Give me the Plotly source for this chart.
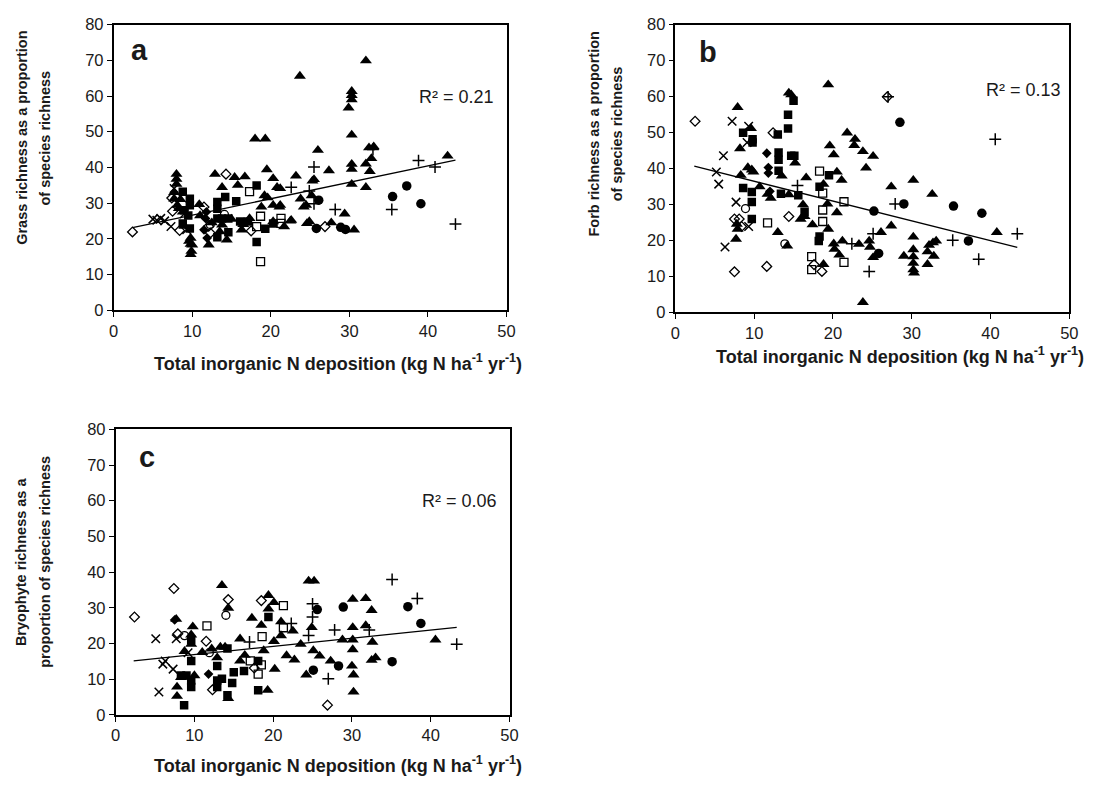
import plotly.graph_objects as go

W, H = 1102, 802

# ---------------- data: panel a (grass) ----------------
a_tri_x = [8.0, 8.0, 8.0, 7.7, 8.1, 8.8, 9.8, 9.8, 9.9, 9.8, 10.9, 12.1, 12.9, 13.8, 14.4, 15.4, 15.8, 16.7, 16.3, 17.3,
           18.0, 19.3, 19.5, 19.2, 18.8, 20.3, 20.3, 20.8, 21.2, 21.2, 21.7, 22.6, 23.2, 23.7, 23.8, 24.2, 24.6, 25.3, 25.2, 26.0,
           27.4, 27.7, 29.4, 30.3, 29.9, 30.3, 30.3, 30.3, 30.3, 30.3, 30.6, 32.1, 32.1, 32.1, 32.8, 32.5, 33.1, 32.6, 42.5, 13.8,
           9.6, 10.0, 19.6, 20.3, 21.1, 12.5, 13.5, 15.0, 16.5, 22.5, 8.5, 8.3, 9.0, 24.5, 24.9, 25.5, 30.3, 7.7, 11.0]
a_tri_y = [38.1, 36.7, 35.3, 31.2, 29.4, 27.5, 20.2, 18.5, 16.5, 15.6, 29.6, 18.3, 38.1, 34.4, 19.7, 37.2, 35.0, 37.4, 22.5, 25.7,
           48.0, 48.0, 39.4, 32.1, 28.9, 29.4, 36.9, 34.4, 34.1, 29.4, 23.4, 25.2, 37.6, 65.6, 31.2, 28.9, 24.3, 36.2, 32.1, 44.8,
           39.1, 24.5, 27.0, 49.1, 56.7, 59.0, 61.3, 40.9, 39.5, 35.3, 22.5, 69.9, 34.4, 41.0, 42.5, 45.5, 45.8, 38.9, 43.2, 23.9,
           19.3, 18.3, 31.5, 24.8, 28.9, 24.5, 22.0, 25.5, 24.0, 25.0, 31.0, 28.5, 23.5, 29.4, 24.8, 36.6, 60.2, 33.0, 26.5]
a_sq_x = [8.8, 9.7, 9.7, 8.8, 9.7, 13.2, 13.2, 13.8, 14.6, 13.2, 14.6, 15.6, 16.1, 17.1, 18.2, 18.2, 19.3, 20.3, 14.2, 13.2,
          9.5, 9.0]
a_sq_y = [33.2, 31.2, 29.4, 24.3, 22.9, 30.3, 25.7, 25.7, 25.7, 20.4, 21.8, 30.5, 24.8, 24.8, 34.9, 19.1, 22.8, 24.3, 31.7, 28.4,
          26.5, 28.0]
a_dia_x = [11.5, 11.9, 11.7, 11.8]
a_dia_y = [22.5, 20.2, 25.7, 27.5]
a_circ_x = [25.8, 26.1, 28.9, 29.5, 35.5, 37.3, 39.1]
a_circ_y = [22.9, 30.8, 23.2, 22.6, 31.8, 34.8, 29.8]
a_osq_x = [17.3, 18.7, 18.2, 21.3, 21.3, 18.7]
a_osq_y = [33.2, 26.3, 23.4, 25.7, 24.3, 13.6]
a_odia_x = [2.4, 7.4, 7.5, 8.4, 14.3, 11.5, 12.1, 12.3, 17.5, 26.9]
a_odia_y = [21.9, 31.4, 27.7, 22.3, 38.1, 28.9, 23.5, 21.6, 22.2, 23.4]
a_ocirc_x = [14.1, 12.3]
a_ocirc_y = [26.8, 24.0]
a_x_x = [5.0, 5.5, 6.0, 6.5, 7.3, 7.7, 9.3, 9.0]
a_x_y = [25.5, 25.2, 25.7, 25.0, 23.4, 34.1, 22.5, 27.0]
a_plus_x = [25.5, 24.9, 22.6, 25.5, 28.2, 33.0, 35.4, 38.8, 40.9, 43.5]
a_plus_y = [40.1, 33.4, 34.4, 29.8, 28.2, 45.0, 28.2, 41.9, 40.1, 24.1]
a_trend_x = [2.4, 43.5]
a_trend_y = [23.1, 42.0]

# ---------------- data: panel b (forb) ----------------
b_tri_x = [7.9, 8.2, 8.3, 9.2, 9.7, 9.9, 9.6, 7.8, 7.9, 7.7, 10.7, 11.7, 12.1, 13.0, 13.5, 14.2, 14.4, 14.4, 14.7, 15.2,
           16.2, 16.4, 15.9, 16.6, 17.4, 18.8, 18.8, 19.4, 19.3, 19.4, 19.6, 20.1, 20.5, 20.5, 20.1, 20.2, 20.8, 21.1, 21.2, 21.8,
           22.8, 22.7, 23.3, 23.8, 23.8, 24.2, 24.6, 24.7, 25.1, 25.1, 26.1, 27.4, 27.4, 29.0, 30.2, 30.2, 30.2, 30.2, 30.2, 30.2,
           30.3, 32.0, 32.0, 32.2, 32.6, 32.7, 33.1, 32.8, 40.8]
b_tri_y = [57.0, 45.5, 38.1, 40.2, 39.6, 39.0, 51.1, 24.5, 23.1, 20.3, 34.9, 32.8, 31.7, 22.2, 37.9, 18.4, 32.7, 61.0, 60.5, 41.5,
           29.9, 26.6, 25.9, 37.4, 24.3, 13.3, 35.6, 23.1, 30.1, 63.3, 46.3, 43.8, 39.0, 27.7, 19.0, 17.5, 15.9, 36.7, 19.8, 49.9,
           48.1, 46.4, 18.9, 44.7, 2.7, 40.1, 19.8, 18.1, 43.4, 15.2, 22.2, 34.9, 24.0, 15.6, 36.7, 20.9, 17.4, 15.4, 13.6, 11.8,
           10.9, 13.3, 16.8, 18.6, 32.8, 19.3, 19.8, 15.6, 22.2]
b_sq_x = [8.6, 9.8, 9.8, 8.6, 9.7, 9.7, 9.7, 13.0, 14.3, 14.3, 15.0, 13.1, 13.1, 13.1, 13.4, 14.7, 15.1, 15.6, 16.4, 18.3,
          19.5, 18.3, 18.2]
b_sq_y = [49.9, 48.1, 47.2, 34.5, 33.4, 30.6, 25.9, 49.4, 54.9, 51.1, 58.8, 44.4, 42.4, 39.3, 32.9, 43.5, 43.5, 32.5, 27.9, 34.9,
          38.1, 21.0, 19.8]
b_dia_x = [11.6, 11.8, 11.8, 12.0]
b_dia_y = [44.2, 40.2, 38.7, 33.6]
b_circ_x = [28.5, 29.0, 25.2, 25.8, 35.3, 38.9, 37.2]
b_circ_y = [52.8, 30.1, 28.1, 16.3, 29.5, 27.5, 19.8]
b_osq_x = [18.3, 18.7, 18.7, 18.7, 21.4, 11.7, 17.3, 17.3, 21.4]
b_osq_y = [39.2, 33.1, 28.4, 25.2, 30.7, 24.8, 15.4, 11.8, 13.8]
b_odia_x = [2.5, 7.5, 7.5, 8.1, 8.4, 11.6, 12.4, 14.4, 17.6, 18.6, 26.9]
b_odia_y = [53.1, 11.2, 25.9, 25.9, 23.8, 12.7, 49.9, 26.6, 13.2, 11.3, 59.9]
b_ocirc_x = [8.9, 13.9]
b_ocirc_y = [28.8, 19.0]
b_x_x = [7.2, 6.1, 5.2, 5.5, 7.7, 6.3, 9.3, 9.1, 9.3]
b_x_y = [53.1, 43.5, 39.0, 35.6, 30.6, 18.1, 51.7, 47.2, 23.8]
b_plus_x = [15.5, 22.4, 24.6, 25.1, 27.9, 35.2, 38.5, 40.6, 43.4, 27.0]
b_plus_y = [35.2, 19.0, 11.3, 21.8, 30.1, 20.0, 14.7, 48.1, 21.8, 59.9]
b_trend_x = [2.4, 43.4]
b_trend_y = [40.6, 18.0]

# ---------------- data: panel c (bryophyte) ----------------
c_tri_x = [7.7, 7.8, 7.8, 9.8, 9.6, 9.6, 8.75, 13.5, 12.9, 13.3, 13.9, 14.3, 14.3, 15.8, 15.8, 16.4, 17.3, 18.5, 18.8, 19.4,
           19.4, 19.3, 20.1, 20.1, 20.2, 21.0, 21.0, 21.7, 22.5, 22.7, 23.5, 24.2, 24.5, 25.2, 24.9, 25.1, 25.9, 27.3, 28.8, 30.1,
           30.1, 30.1, 30.1, 30.0, 30.2, 30.2, 31.75, 31.75, 32.5, 32.6, 32.5, 33.0, 40.6, 8.3, 10.0, 11.0, 12.2]
c_tri_y = [26.8, 7.8, 5.2, 24.7, 22.4, 19.8, 17.8, 36.3, 16.0, 19.0, 19.0, 29.9, 4.6, 21.3, 15.1, 16.7, 27.1, 25.1, 18.0, 33.5,
           29.7, 6.9, 31.5, 20.6, 12.8, 26.1, 22.2, 16.6, 23.5, 15.4, 19.8, 11.2, 37.5, 37.5, 24.5, 18.0, 16.5, 15.1, 21.0, 32.4,
           24.5, 21.0, 18.3, 13.7, 11.2, 6.4, 32.6, 25.0, 29.3, 20.4, 15.3, 16.0, 21.0, 10.5, 11.0, 17.5, 18.5]
c_sq_x = [8.7, 9.6, 9.6, 8.3, 9.0, 9.6, 9.6, 12.9, 12.9, 13.5, 14.2, 14.8, 15.0, 16.3, 18.1, 18.1, 19.4, 14.2, 12.9]
c_sq_y = [2.7, 9.6, 7.8, 11.0, 11.0, 15.1, 21.0, 9.6, 7.8, 10.1, 5.5, 8.9, 11.9, 12.3, 15.1, 6.9, 27.4, 18.6, 13.7]
c_dia_x = [11.8, 7.5]
c_dia_y = [11.4, 26.6]
c_circ_x = [25.6, 28.9, 25.1, 28.3, 35.1, 37.1, 38.75]
c_circ_y = [29.5, 30.2, 12.5, 13.7, 14.9, 30.3, 25.6]
c_osq_x = [11.6, 18.6, 21.3, 21.3, 17.1, 18.1, 18.5]
c_osq_y = [24.9, 21.9, 30.6, 24.4, 15.1, 11.4, 14.0]
c_odia_x = [2.4, 7.4, 7.9, 14.3, 18.5, 12.3, 11.5, 17.6, 26.9]
c_odia_y = [27.4, 35.4, 22.7, 32.3, 32.0, 7.0, 20.6, 13.1, 2.7]
c_ocirc_x = [8.75, 14.0, 11.9]
c_ocirc_y = [22.2, 27.9, 17.4]
c_x_x = [5.1, 5.5, 6.3, 7.3, 7.7, 9.2, 6.0]
c_x_y = [21.3, 6.4, 15.1, 12.8, 21.3, 17.4, 14.2]
c_plus_x = [17.0, 22.3, 24.5, 25.0, 25.0, 27.0, 27.8, 32.2, 35.1, 38.3, 43.3]
c_plus_y = [20.4, 25.6, 22.2, 31.1, 27.4, 10.1, 23.8, 23.8, 37.9, 32.6, 19.8]
c_trend_x = [2.3, 43.3]
c_trend_y = [15.1, 24.5]

x_ticks = [0, 10, 20, 30, 40, 50]
y_ticks = [0, 10, 20, 30, 40, 50, 60, 70, 80]

panel_letters = ["a", "b", "c"]
r2_labels = ["R² = 0.21", "R² = 0.13", "R² = 0.06"]
y_titles = [["Grass richness as a proportion", "of species richness"],
            ["Forb richness as a proportion", "of species richness"],
            ["Bryophyte richness as a", "proportion of species richness"]]
x_title = "Total inorganic N deposition (kg N ha<sup>-1</sup> yr<sup>-1</sup>)"

FONT = "Liberation Sans, Arial, sans-serif"
TXT = "#1a1a1a"

# marker styles per group
styles = {
    "tri": dict(symbol="triangle-up", size=10.5, color="black", line=dict(width=0)),
    "sq": dict(symbol="square", size=8.5, color="black", line=dict(width=0)),
    "dia": dict(symbol="diamond", size=7.5, color="black", line=dict(width=0)),
    "circ": dict(symbol="circle", size=9.5, color="black", line=dict(width=0)),
    "osq": dict(symbol="square-open", size=8, color="black", line=dict(width=1.3, color="black")),
    "odia": dict(symbol="diamond-open", size=7.5, color="black", line=dict(width=1.3, color="black")),
    "ocirc": dict(symbol="circle-open", size=8, color="black", line=dict(width=1.3, color="black")),
    "x": dict(symbol="x-thin-open", size=8.5, color="black", line=dict(width=1.5, color="black")),
    "plus": dict(symbol="cross-thin-open", size=8.5, color="black", line=dict(width=1.5, color="black")),
}

panels = [
    dict(groups={"tri": (a_tri_x, a_tri_y), "sq": (a_sq_x, a_sq_y), "dia": (a_dia_x, a_dia_y),
                 "circ": (a_circ_x, a_circ_y), "osq": (a_osq_x, a_osq_y), "odia": (a_odia_x, a_odia_y),
                 "ocirc": (a_ocirc_x, a_ocirc_y), "x": (a_x_x, a_x_y), "plus": (a_plus_x, a_plus_y)},
         trend=(a_trend_x, a_trend_y)),
    dict(groups={"tri": (b_tri_x, b_tri_y), "sq": (b_sq_x, b_sq_y), "dia": (b_dia_x, b_dia_y),
                 "circ": (b_circ_x, b_circ_y), "osq": (b_osq_x, b_osq_y), "odia": (b_odia_x, b_odia_y),
                 "ocirc": (b_ocirc_x, b_ocirc_y), "x": (b_x_x, b_x_y), "plus": (b_plus_x, b_plus_y)},
         trend=(b_trend_x, b_trend_y)),
    dict(groups={"tri": (c_tri_x, c_tri_y), "sq": (c_sq_x, c_sq_y), "dia": (c_dia_x, c_dia_y),
                 "circ": (c_circ_x, c_circ_y), "osq": (c_osq_x, c_osq_y), "odia": (c_odia_x, c_odia_y),
                 "ocirc": (c_ocirc_x, c_ocirc_y), "x": (c_x_x, c_x_y), "plus": (c_plus_x, c_plus_y)},
         trend=(c_trend_x, c_trend_y)),
]

# pixel boxes of plot areas (left, top, right, bottom)
boxes = [(110, 16, 508, 308), (679, 16, 1078, 310), (112, 430, 511, 722)]
letter_pos = [(136, 42), (712, 44), (144, 458)]
r2_pos = [(497, 90), (1072, 83), (500, 503)]
ytitle_x = [(17, 41), (597, 620), (17, 41)]
ytitle_y = [132, 128, 565]
xtitle_pos = [(337, 362), (907, 354), (337, 773)]

def px(x):
    return x / W

def py(y):
    return 1 - y / H

fig = go.Figure()
annotations = []
for i, p in enumerate(panels):
    sfx = "" if i == 0 else str(i + 1)
    xa, ya = "x" + sfx, "y" + sfx
    for g, (gx, gy) in p["groups"].items():
        fig.add_trace(go.Scatter(x=gx, y=gy, mode="markers", marker=styles[g],
                                 xaxis=xa, yaxis=ya, showlegend=False, hoverinfo="skip"))
    tx, ty = p["trend"]
    fig.add_trace(go.Scatter(x=tx, y=ty, mode="lines", line=dict(color="black", width=1.3),
                             xaxis=xa, yaxis=ya, showlegend=False, hoverinfo="skip"))
    l, t, r, b = boxes[i]
    axis_common = dict(showgrid=False, zeroline=False, showline=True, linecolor="black", linewidth=1.5,
                       mirror=True, ticks="outside", ticklen=5, tickwidth=1.2, tickcolor="black",
                       tickfont=dict(family=FONT, size=16.5, color=TXT))
    fig.layout["xaxis" + sfx] = dict(axis_common, domain=[px(l), px(r)], range=[0, 50],
                                     tickvals=x_ticks, anchor=ya)
    fig.layout["yaxis" + sfx] = dict(axis_common, domain=[py(b), py(t)], range=[0, 80],
                                     tickvals=y_ticks, anchor=xa)
    lx, ly = letter_pos[i]
    annotations.append(dict(text="<b>%s</b>" % panel_letters[i], x=px(lx), y=py(ly), xref="paper", yref="paper",
                            xanchor="center", yanchor="middle", showarrow=False,
                            font=dict(family=FONT, size=29, color=TXT)))
    rx, ry = r2_pos[i]
    annotations.append(dict(text=r2_labels[i], x=px(rx), y=py(ry), xref="paper", yref="paper",
                            xanchor="right", yanchor="middle", showarrow=False,
                            font=dict(family=FONT, size=18, color=TXT)))
    for line_text, lxp in zip(y_titles[i], ytitle_x[i]):
        annotations.append(dict(text="<b>%s</b>" % line_text, x=px(lxp), y=py(ytitle_y[i]), xref="paper",
                                yref="paper", xanchor="center", yanchor="middle", showarrow=False, textangle=-90,
                                font=dict(family=FONT, size=14.5, color=TXT)))
    xx, xy = xtitle_pos[i]
    annotations.append(dict(text="<b>%s</b>" % x_title, x=px(xx), y=py(xy), xref="paper", yref="paper",
                            xanchor="center", yanchor="middle", showarrow=False,
                            font=dict(family=FONT, size=18, color=TXT)))

fig.update_layout(width=W, height=H, margin=dict(l=0, r=0, t=0, b=0),
                  paper_bgcolor="white", plot_bgcolor="white", annotations=annotations)

fig.write_html("out.html", include_plotlyjs=True, config={"displayModeBar": False},
               post_script="document.body.style.margin='0';document.body.style.overflow='hidden';")
